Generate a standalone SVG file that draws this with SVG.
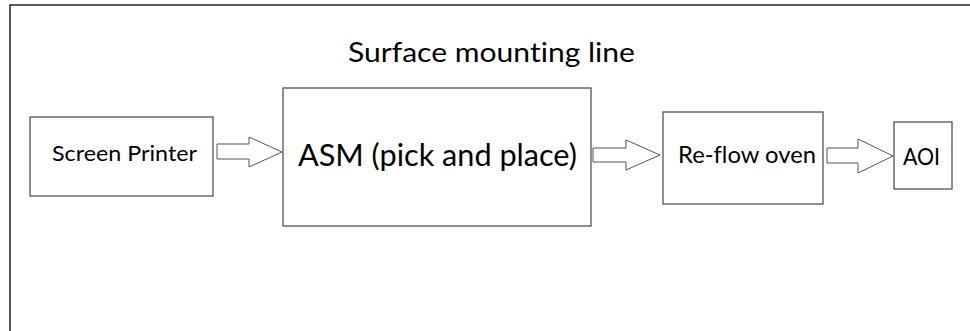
<svg xmlns="http://www.w3.org/2000/svg" width="970" height="331" viewBox="0 0 970 331">
  <style>
    .frame { fill: none; stroke: #222; stroke-width: 1.5; }
    .box { fill: #fff; stroke: #444; stroke-width: 1.2; }
    .flow { fill: #fff; stroke: #555; stroke-width: 1; stroke-linejoin: miter; }
    .lbl { font-family: Lato, "Noto Sans", "Liberation Sans", sans-serif; fill: #000; font-variant-ligatures: none; }
  </style>
  <rect width="970" height="331" fill="#fff"/>
  <!-- open frame: top and left edges only -->
  <path class="frame" d="M10 331 V5 H970"/>

  <text class="lbl" x="348" y="62" font-size="27" textLength="287" lengthAdjust="spacingAndGlyphs">Surface mounting line</text>

  <g id="screen-printer">
    <rect class="box" x="30" y="117" width="183" height="79"/>
    <text class="lbl" x="52" y="161" font-size="21" textLength="145" lengthAdjust="spacingAndGlyphs">Screen Printer</text>
  </g>

  <g id="asm">
    <rect class="box" x="283" y="88" width="308" height="138"/>
    <text class="lbl" x="298" y="166" font-size="31" textLength="279" lengthAdjust="spacingAndGlyphs">ASM (pick and place)</text>
  </g>

  <g id="reflow-oven">
    <rect class="box" x="663" y="112" width="160" height="92"/>
    <text class="lbl" x="678" y="163" font-size="23.5" textLength="138" lengthAdjust="spacingAndGlyphs">Re-flow oven</text>
  </g>

  <g id="aoi">
    <rect class="box" x="894" y="122" width="58" height="67"/>
    <text class="lbl" x="903" y="165" font-size="22.5" textLength="37" lengthAdjust="spacingAndGlyphs" font-family="Liberation Sans, Arial, sans-serif">AOI</text>
  </g>

  <g id="connectors">
    <polygon class="flow" points="217,144 249,144 249,137 282,152 249,167 249,159 217,159"/>
    <polygon class="flow" points="593,148 626,148 626,140 660,155 626,170 626,162 593,162"/>
    <polygon class="flow" points="827,148 858,148 858,139 893,156 858,173 858,163 827,163"/>
  </g>
</svg>
